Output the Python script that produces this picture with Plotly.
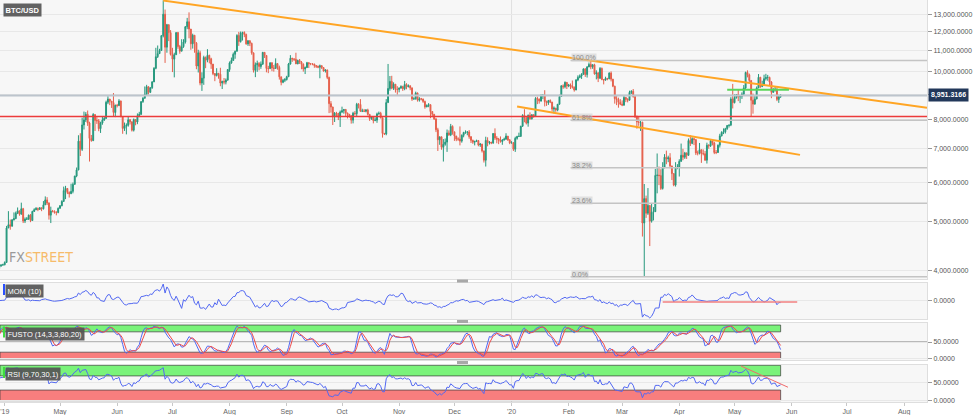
import math
import pandas as pd
import plotly.graph_objects as go

# ---------------- DATA: daily (close, high, low) per month, BTC/USD ----------------
mar_2019 = [(3816,3840,3790),(3823,3845,3800),(3810,3830,3790),(3730,3815,3700),(3862,3875,3720),(3875,3905,3840),
            (3877,3915,3860),(3862,3930,3840),(3947,3960,3855),(3916,3955,3890),(3872,3925,3840),(3882,3895,3845),
            (3867,3890,3850),(3879,3905,3830),(3924,3935,3870),(4034,4060,3920),(3989,4040,3975),(4003,4015,3975),
            (4025,4040,3990),(4068,4080,4015),(3978,4085,3950),(3991,4005,3965),(4015,4025,3985),(4008,4020,3990),
            (3929,4015,3880),(3952,3965,3915),(4059,4070,3945),(4031,4060,4010),(4080,4095,4025),(4095,4110,4060),
            (4100,4120,4085)]
apr_2019 = [(4144,4165,4090),(4858,4905,4140),(4932,5250,4860),(4899,5050,4820),(5044,5060,4890),(5073,5220,5030),
            (5202,5240,5060),(5258,5340,5180),(5178,5260,5140),(5309,5460,5170),(5018,5330,4970),(5060,5100,4970),
            (5066,5110,5040),(5153,5170,5040),(5028,5180,4990),(5244,5260,5020),(5286,5320,5230),(5312,5350,5275),
            (5294,5340,5250),(5331,5350,5280),(5309,5340,5250),(5406,5500,5290),(5530,5620,5400),(5450,5600,5400),
            (5155,5470,5050),(5254,5360,4970),(5245,5280,5220),(5218,5270,5190),(5218,5250,5150),(5320,5340,5200)]
may_2019 = [(5383,5400,5310),(5492,5520,5370),(5772,5880,5480),(5829,5900,5550),(5725,5840,5680),(5689,5750,5590),
            (5752,5960,5690),(5940,5990,5700),(6173,6180,5940),(6350,6420,6140),(7250,7450,6340),(6983,7520,6770),
            (7814,8080,6930),(7995,8310,7650),(8205,8290,7920),(7885,8350,7780),(7343,7930,6600),(7271,7460,7230),
            (8197,8250,7250),(7979,8120,7600),(7963,8100,7850),(7680,8030,7590),(7882,7930,7530),(7991,8140,7820),
            (8052,8130,7960),(8674,8740,8040),(8805,8920,8600),(8720,8800,8560),(8660,8720,8450),(8276,9050,8110),
            (8555,8580,8100)]
jun_2019 = [(8547,8610,8470),(8726,8800,8520),(8115,8740,8100),(7688,8130,7500),(7776,7900,7600),(7800,7870,7480),
            (8000,8120,7750),(7927,8030,7830),(7627,7940,7580),(8010,8050,7580),(7920,8020,7800),(8150,8240,7840),
            (8207,8300,8100),(8700,8710,8180),(8838,8880,8650),(8994,9330,8820),(9320,9400,8980),(9081,9330,8990),
            (9274,9300,9050),(9529,9560,9230),(10144,10200,9520),(10701,11150,10100),(10855,11270,10640),
            (11011,11100,10850),(11790,11830,11000),(13017,13880,11700),(11182,13300,10400),(12407,12450,10900),
            (11959,12380,11500),(10817,12100,10760)]
jul_2019 = [(10583,11150,9970),(10801,10900,9730),(11961,11970,10800),(11215,12000,11100),(10978,11300,10850),
            (11208,11600,10990),(11450,11600,11150),(12285,12330,11370),(12573,12800,12150),(12157,13130,11650),
            (11358,12150,11050),(11815,11900,11110),(11392,11830,10900),(10256,11450,10100),(10895,11050,9950),
            (9477,11000,9380),(9693,9960,9140),(10666,10750,9400),(10530,10710,10150),(10767,11080,10430),
            (10599,10800,10380),(10343,10650,10120),(9900,10350,9830),(9811,9920,9560),(9912,10150,9770),
            (9870,9930,9670),(9477,10170,9340),(9552,9580,9220),(9519,9700,9420),(9607,9680,9420),(10085,10110,9580)]
aug_2019 = [(10400,10470,9980),(10519,10660,10360),(10821,10910,10500),(10970,11010,10600),(11805,11870,10970),
            (11478,12000,11250),(11941,12020,11420),(11966,12010,11530),(11862,12030,11710),(11354,11900,11310),
            (11523,11540,11250),(11382,11530,11240),(10895,11420,10800),(10051,10900,9950),(10311,10420,9740),
            (10374,10510,9980),(10231,10440,10050),(10345,10470,10120),(10918,10940,10300),(10764,10930,10640),
            (10138,10760,9960),(10131,10260,9920),(10407,10420,10110),(10160,10430,10010),(10138,10300,9990),
            (10370,10620,10130),(10185,10380,10080),(9754,10270,9630),(9510,9760,9380),(9598,9660,9470),
            (9630,9700,9520)]
sep_2019 = [(9757,9800,9590),(10347,10400,9750),(10623,10780,10320),(10594,10650,10450),(10575,10620,10490),
            (10353,10900,10350),(10517,10560,10340),(10441,10590,10350),(10334,10490,10100),(10115,10380,9990),
            (10178,10230,9880),(10410,10450,10160),(10360,10430,10160),(10358,10380,10290),(10347,10370,10290),
            (10276,10360,10170),(10241,10280,10160),(10198,10270,10150),(10266,10320,9690),(10181,10290,10110),
            (10019,10190,9990),(10070,10090,9950),(9729,10080,9650),(8620,9760,8250),(8486,8720,8270),
            (8118,8500,7810),(8251,8290,7920),(8245,8300,8100),(8104,8240,7990),(8293,8350,7740)]
oct_2019 = [(8343,8500,8250),(8393,8400,8230),(8259,8400,8120),(8205,8260,8050),(8151,8220,8080),(7988,8170,7860),
            (8245,8300,7870),(8229,8330,8160),(8595,8650,8140),(8586,8640,8430),(8321,8800,8300),(8336,8420,8290),
            (8321,8410,8290),(8374,8400,8280),(8205,8420,8160),(8047,8210,7960),(8103,8130,8000),(7973,8110,7870),
            (7988,8090,7950),(8222,8270,7890),(8243,8310,8190),(8078,8300,8050),(7514,8080,7370),(7493,7530,7460),
            (8660,8800,7450),(9244,10350,8970),(9551,9790,9150),(9256,9800,9210),(9427,9510,9180),(9205,9430,9070),
            (9199,9340,8980)]
nov_2019 = [(9261,9290,9080),(9324,9380,9230),(9235,9360,9140),(9413,9570,9170),(9320,9470,9210),(9360,9420,9290),
            (9267,9370,9170),(8804,9290,8730),(8813,8880,8780),(9055,9110,8780),(8757,9070,8700),(8815,8880,8700),
            (8809,8850,8750),(8708,8810,8650),(8491,8740,8420),(8550,8590,8480),(8577,8640,8480),(8310,8590,8060),
            (8206,8330,8100),(8027,8220,8000),(7642,8070,7560),(7296,7710,6930),(7397,7400,7130),(7047,7400,6970),
            (7146,7320,6600),(7218,7340,7100),(7531,7650,6900),(7463,7620,7430),(7761,7850,7420),(7569,7800,7470)]
dec_2019 = [(7424,7570,7260),(7321,7430,7250),(7321,7380,7260),(7252,7760,7110),(7448,7480,7200),(7546,7570,7380),
            (7556,7620,7500),(7564,7590,7450),(7400,7630,7330),(7278,7420,7190),(7217,7300,7160),(7243,7260,7110),
            (7269,7300,7220),(7124,7290,7080),(7152,7190,7060),(6932,7160,6880),(6640,6940,6570),(7276,7400,6450),
            (7202,7380,7080),(7219,7250,7140),(7191,7220,7150),(7511,7520,7160),(7355,7690,7290),(7322,7420,7180),
            (7275,7360,7150),(7238,7410,7200),(7290,7320,7130),(7317,7370,7270),(7422,7520,7300),(7293,7420,7260),
            (7193,7320,7150)]
jan_2020 = [(7200,7250,7170),(6985,7210,6930),(7345,7400,6900),(7410,7430,7300),(7411,7540,7390),(7769,7780,7400),
            (8163,8210,7740),(8080,8400,7910),(7879,8090,7830),(8166,8200,7750),(8037,8280,8000),(8192,8200,8010),
            (8144,8200,8080),(8827,8880,8140),(8807,8900,8600),(8723,8820,8620),(8929,9000,8700),(8942,9010,8800),
            (8706,9170,8510),(8657,8740,8530),(8745,8770,8570),(8680,8790,8640),(8406,8690,8310),(8445,8510,8240),
            (8367,8450,8300),(8596,8600,8320),(8910,8980,8580),(9358,9380,8900),(9316,9420,9230),(9508,9550,9250),
            (9350,9520,9220)]
feb_2020 = [(9392,9440,9300),(9344,9460,9220),(9293,9590,9240),(9180,9330,9110),(9613,9650,9170),(9729,9820,9560),
            (9795,9860,9690),(9865,9920,9660),(10116,10140,9860),(9856,10150,9750),(10208,10250,9720),
            (10326,10420,10200),(10214,10520,10100),(10312,10340,10120),(9889,10360,9850),(9934,10050,9640),
            (9690,9960,9520),(10141,10200,9660),(9633,10180,9600),(9608,9650,9420),(9686,9760,9580),(9663,9700,9600),
            (9924,9960,9650),(9650,10000,9550),(9341,9660,9300),(8820,9360,8620),(8784,8940,8560),(8672,8860,8460),
            (8599,8800,8560)]
mar_2020 = [(8562,8750,8520),(8869,8930,8530),(8787,8890,8680),(8755,8840,8670),(9078,9150,8760),(9122,9170,9010),
            (8909,9220,8860),(8108,8910,8070),(7923,8160,7680),(7909,8140,7780),(7911,7970,7600),(4970,7930,4670),
            (5563,5950,3880),(5200,5640,5090),(5392,5840,5160),(5014,5390,4470),(5225,5440,4980),(5238,5350,5030),
            (6191,6380,5230),(6198,6850,5700),(6185,6450,5920),(5830,6370,5790),(6416,6580,5800),(6734,6830,6400),
            (6681,6940,6520),(6716,6780,6580),(6469,6860,6400),(6243,6300,6060),(5922,6250,5890),(6429,6580,5880),
            (6438,6520,6370)]
apr_2020 = [(6606,6670,6160),(6793,7170,6590),(6733,7000,6640),(6867,6900,6680),(6791,6880,6680),(7271,7340,6780),
            (7176,7450,7090),(7335,7380,7150),(7302,7360,7120),(6865,7310,6800),(6859,6940,6790),(6971,7190,6820),
            (6845,6970,6560),(6842,6980,6790),(6642,6930,6620),(7116,7200,6540),(7096,7150,7000),(7257,7290,7060),
            (7189,7260,7110),(6881,7230,6830),(6880,6960,6830),(7117,7140,6870),(7429,7500,7040),(7550,7590,7410),
            (7569,7690,7490),(7679,7710,7510),(7795,7810,7640),(7807,7830,7720),(8801,8880,7770),(8658,9440,8430)]
may_2020 = [(8864,9000,8630),(8988,9010,8820),(8897,9180,8720),(8912,8960,8640),(9003,9080,8810),(9268,9390,8960),
            (9951,9990,9220),(9842,10050,9730),(9593,9900,9520),(8756,9580,8120),(8601,9030,8230),(8804,8950,8580),
            (9269,9330,8800),(9733,9880,9260),(9328,9750,9270),(9377,9580,9300),(9670,9850,9350),(9727,9890,9590),
            (9729,9840,9580),(9523,9760,9390),(9081,9560,8840),(9182,9260,9060),(9209,9320,9110),(8790,9290,8720),
            (8906,8980,8650),(8951,9000,8850)]

months = [("2019-03-01", mar_2019), ("2019-04-01", apr_2019), ("2019-05-01", may_2019), ("2019-06-01", jun_2019),
          ("2019-07-01", jul_2019), ("2019-08-01", aug_2019), ("2019-09-01", sep_2019), ("2019-10-01", oct_2019),
          ("2019-11-01", nov_2019), ("2019-12-01", dec_2019), ("2020-01-01", jan_2020), ("2020-02-01", feb_2020),
          ("2020-03-01", mar_2020), ("2020-04-01", apr_2020), ("2020-05-01", may_2020)]

last_price = 8951.3166
hline_red = 8123
fib_high, fib_low = 10520, 3880
fib_levels = [1.0, 0.618, 0.382, 0.236, 0.0]
fib_labels = ["100.0%", "61.8%", "38.2%", "23.6%", "0.0%"]
fib_start = "2020-02-02"
trend_a = [("2019-06-26", 13865), ("2020-08-13 10:00", 8455)]
trend_b = [("2020-01-04", 8507), ("2020-06-05 12:00", 6806)]
green_line = [("2020-04-27", 9190), ("2020-05-30 12:00", 9190)]
mom_level = [("2020-03-23", -300), ("2020-06-04", -300)]
rsi_trend = [("2020-05-04 12:00", 98), ("2020-05-30", 38)]

price_ticks = [4000, 5000, 6000, 7000, 8000, 9000, 10000, 11000, 12000, 13000]
price_tick_text = ["4,000.0000", "5,000.0000", "6,000.0000", "7,000.0000", "8,000.0000", "",
                   "10,000.0000", "11,000.0000", "12,000.0000", "13,000.0000"]
month_ticks = pd.date_range("2019-04-01", "2020-08-01", freq="MS")
month_text = ["'19", "May", "Jun", "Jul", "Aug", "Sep", "Oct", "Nov", "Dec", "'20",
              "Feb", "Mar", "Apr", "May", "Jun", "Jul", "Aug"]
x_range = ["2019-03-29 10:30", "2020-08-13 10:00"]

# ---------------- build series ----------------
dates, close, high, low = [], [], [], []
for start, rows in months:
    d = pd.date_range(start, periods=len(rows), freq="D")
    for di, (c, h, l) in zip(d, rows):
        dates.append(di); close.append(c); high.append(h); low.append(l)
opn = [close[0]] + close[:-1]
high = [max(h, o, c) for h, o, c in zip(high, opn, close)]
low = [min(l, o, c) for l, o, c in zip(low, opn, close)]
df = pd.DataFrame({"o": opn, "h": high, "l": low, "c": close}, index=pd.DatetimeIndex(dates))

mom = df["c"] - df["c"].shift(10)
ll = df["l"].rolling(14).min(); hh = df["h"].rolling(14).max()
fast_k = 100 * (df["c"] - ll) / (hh - ll)
sto_k = fast_k.rolling(3).mean()
sto_d = sto_k.rolling(3).mean()
delta = df["c"].diff()
gain = delta.clip(lower=0).ewm(alpha=1/9, adjust=False).mean()
loss = (-delta.clip(upper=0)).ewm(alpha=1/9, adjust=False).mean()
rsi = 100 - 100 / (1 + gain / loss)

vis = df.index >= pd.Timestamp("2019-03-29")
mmin, mmax = mom[vis].min(), mom[vis].max()
mpad = 0.03 * (mmax - mmin)

# ---------------- style ----------------
FONT = "Liberation Sans, Arial, sans-serif"
UP, DN = "#26987d", "#e5604c"
BLUE, RED = "#5268f2", "#ef4b4b"
GREEN_BAND, RED_BAND = "rgb(122,243,122)", "rgb(248,126,126)"
H = 402.0  # plot-area height in px
W = 927.0  # plot-area width in px


def pdom(top_px, bot_px):
    return [(H - bot_px) / H, (H - top_px) / H]


fig = go.Figure()
fig.add_trace(go.Candlestick(
    x=df.index, open=df["o"], high=df["h"], low=df["l"], close=df["c"],
    xaxis="x", yaxis="y", whiskerwidth=0, hoverinfo="skip", showlegend=False,
    increasing=dict(line=dict(color=UP, width=1), fillcolor=UP),
    decreasing=dict(line=dict(color=DN, width=1), fillcolor=DN)))
fig.add_trace(go.Scatter(x=df.index, y=mom, xaxis="x2", yaxis="y2", mode="lines",
                         line=dict(color=BLUE, width=1), hoverinfo="skip", showlegend=False))
fig.add_trace(go.Scatter(x=df.index, y=sto_k, xaxis="x3", yaxis="y3", mode="lines",
                         line=dict(color=BLUE, width=1), hoverinfo="skip", showlegend=False))
fig.add_trace(go.Scatter(x=df.index, y=sto_d, xaxis="x3", yaxis="y3", mode="lines",
                         line=dict(color=RED, width=1), hoverinfo="skip", showlegend=False))
fig.add_trace(go.Scatter(x=df.index, y=rsi, xaxis="x4", yaxis="y4", mode="lines",
                         line=dict(color=BLUE, width=1), hoverinfo="skip", showlegend=False))

shapes = []
last_date = df.index[-1]
# year divider
for xr, yr, y0, y1 in [("x", "y", 3840, 13900), ("x2", "y2", mmin - mpad, mmax + mpad),
                       ("x3", "y3", -3, 106), ("x4", "y4", -3.7, 100.8)]:
    shapes.append(dict(type="line", xref=xr, yref=yr, x0="2020-01-01", x1="2020-01-01",
                       y0=y0, y1=y1, line=dict(color="#e0e0e0", width=1), layer="below"))
# main panel horizontal levels
shapes.append(dict(type="line", xref="x", yref="y", x0=x_range[0], x1=x_range[1], y0=last_price, y1=last_price,
                   line=dict(color="#bcc4cc", width=2), layer="above"))
shapes.append(dict(type="line", xref="x", yref="y", x0=x_range[0], x1=x_range[1], y0=hline_red, y1=hline_red,
                   line=dict(color="#ec3b3b", width=1.5), layer="above"))
for lv in fib_levels:
    p = fib_low + lv * (fib_high - fib_low)
    shapes.append(dict(type="line", xref="x", yref="y", x0=fib_start, x1=x_range[1], y0=p, y1=p,
                       line=dict(color="#c4c4c4", width=1.5), layer="above"))
for (xa, ya), (xb, yb) in [trend_a, trend_b]:
    shapes.append(dict(type="line", xref="x", yref="y", x0=xa, x1=xb, y0=ya, y1=yb,
                       line=dict(color="#ffa524", width=2), layer="above"))
shapes.append(dict(type="line", xref="x", yref="y", x0=green_line[0][0], x1=green_line[1][0],
                   y0=green_line[0][1], y1=green_line[1][1], line=dict(color="#5ad65a", width=2), layer="above"))
# MOM level
shapes.append(dict(type="line", xref="x2", yref="y2", x0=mom_level[0][0], x1=mom_level[1][0],
                   y0=mom_level[0][1], y1=mom_level[1][1], line=dict(color="#f28080", width=1.5), layer="above"))
# stochastic / rsi bands
for xr, yr, hi, lo in [("x3", "y3", 80, 20), ("x4", "y4", 70, 30)]:
    shapes.append(dict(type="rect", xref=xr, yref=yr, x0=x_range[0], x1=last_date, y0=hi, y1=100,
                       fillcolor=GREEN_BAND, line=dict(color="rgba(60,60,60,0.7)", width=1), layer="below"))
    shapes.append(dict(type="rect", xref=xr, yref=yr, x0=x_range[0], x1=last_date, y0=0, y1=lo,
                       fillcolor=RED_BAND, line=dict(color="rgba(60,60,60,0.7)", width=1), layer="below"))
shapes.append(dict(type="line", xref="x3", yref="y3", x0=x_range[0], x1=x_range[1], y0=50, y1=50,
                   line=dict(color="#7a7a7a", width=1), layer="below"))
shapes.append(dict(type="line", xref="x4", yref="y4", x0=rsi_trend[0][0], x1=rsi_trend[1][0],
                   y0=rsi_trend[0][1], y1=rsi_trend[1][1], line=dict(color="#f06a6a", width=1), layer="above"))
# panel resize handles
for ypx in [281, 321.5, 362.5]:
    yc = (H - ypx) / H
    shapes.append(dict(type="rect", xref="paper", yref="paper", x0=457 / W, x1=468 / W,
                       y0=yc - 1.5 / H, y1=yc + 1.5 / H, fillcolor="#a8a8a8", line=dict(width=0)))
# label colour tabs
for ypx, col in [(284, "#2a50ff"), (326.5, "#3fdc3f"), (367, "#3fdc3f")]:
    shapes.append(dict(type="rect", xref="paper", yref="paper", x0=3 / W, x1=5 / W,
                       y0=(H - ypx - 11) / H, y1=(H - ypx) / H, fillcolor=col, line=dict(width=0)))

annotations = []
lab = dict(xref="paper", yref="paper", x=5 / W, xanchor="left", yanchor="top", showarrow=False,
           bgcolor="rgba(85,85,85,0.92)", borderpad=1.5, font=dict(family=FONT, size=7.5, color="white"))
annotations.append(dict(lab, x=3 / W, y=(H - 2.5) / H, text="<b>BTC/USD</b>"))
annotations.append(dict(lab, y=(H - 284) / H, text="MOM (10)"))
annotations.append(dict(lab, y=(H - 326.5) / H, text="FUSTO (14,3,3,80,20)"))
annotations.append(dict(lab, y=(H - 367) / H, text="RSI (9,70,30,1)"))
annotations.append(dict(xref="paper", yref="paper", x=7 / W, y=(H - 267) / H, xanchor="left",
                        yanchor="bottom", showarrow=False,
                        text="<span style='color:#9a9a9a'>FX</span><span style='color:#f6bb6a'>STREET</span>",
                        font=dict(family="Liberation Sans Narrow, DejaVu Sans Condensed, Arial Narrow, sans-serif",
                                  size=14)))
annotations.append(dict(xref="paper", yref="y", x=1.0, y=math.log10(last_price), xanchor="left",
                        yanchor="middle", showarrow=False, text="<b>8,951.3166</b>", bgcolor="#22385a",
                        borderpad=2, xshift=1, font=dict(family=FONT, size=7, color="white")))
for lv, txt in zip(fib_levels, fib_labels):
    p = fib_low + lv * (fib_high - fib_low)
    annotations.append(dict(xref="x", yref="y", x=fib_start, y=math.log10(p), xanchor="left",
                            yanchor="bottom", yshift=-2, showarrow=False, text=txt,
                            bgcolor="rgba(205,205,205,0.55)", borderpad=0,
                            font=dict(family=FONT, size=7, color="#8a8a8a")))

axis_common = dict(showline=True, mirror=True, linecolor="#dedede", linewidth=1, automargin=False)
ytick = dict(side="right", ticks="outside", ticklen=4, tickcolor="#9a9a9a",
             tickfont=dict(family=FONT, size=7, color="#555555"), gridcolor="#e8e8e8",
             zeroline=False, **axis_common)
xcommon = dict(type="date", range=x_range, showgrid=False, zeroline=False, tickvals=list(month_ticks),
               ticktext=month_text, **axis_common)

fig.update_layout(
    width=975, height=415, margin=dict(l=0, r=48, t=0, b=13, autoexpand=False),
    paper_bgcolor="white", plot_bgcolor="#f7f7f7", showlegend=False, hovermode=False,
    font=dict(family=FONT, size=7, color="#555555"),
    xaxis=dict(xcommon, anchor="y", domain=[0, 1], showticklabels=False, ticks="",
               rangeslider=dict(visible=False)),
    xaxis2=dict(xcommon, anchor="y2", domain=[0, 1], showticklabels=False, ticks=""),
    xaxis3=dict(xcommon, anchor="y3", domain=[0, 1], showticklabels=False, ticks=""),
    xaxis4=dict(xcommon, anchor="y4", domain=[0, 1], ticks="outside", ticklen=3, tickcolor="#c8c8c8",
                tickfont=dict(family=FONT, size=7, color="#666666")),
    yaxis=dict(ytick, anchor="x", domain=pdom(0, 279), type="log",
               range=[math.log10(3840), math.log10(13900)], tickvals=price_ticks,
               ticktext=price_tick_text),
    yaxis2=dict(ytick, anchor="x2", domain=pdom(283, 319), range=[mmin - mpad, mmax + mpad],
                tickvals=[0], ticktext=["0.0000"]),
    yaxis3=dict(ytick, anchor="x3", domain=pdom(323, 360), range=[-3, 106],
                tickvals=[0, 50], ticktext=["0.0000", "50.0000"]),
    yaxis4=dict(ytick, anchor="x4", domain=pdom(365, 402), range=[-3.7, 100.8],
                tickvals=[0, 50], ticktext=["0.0000", "50.0000"]),
    shapes=shapes, annotations=annotations,
)

fig.write_html("out.html", config={"displayModeBar": False},
               post_script="document.body.style.margin='0px';document.body.style.overflow='hidden';")
